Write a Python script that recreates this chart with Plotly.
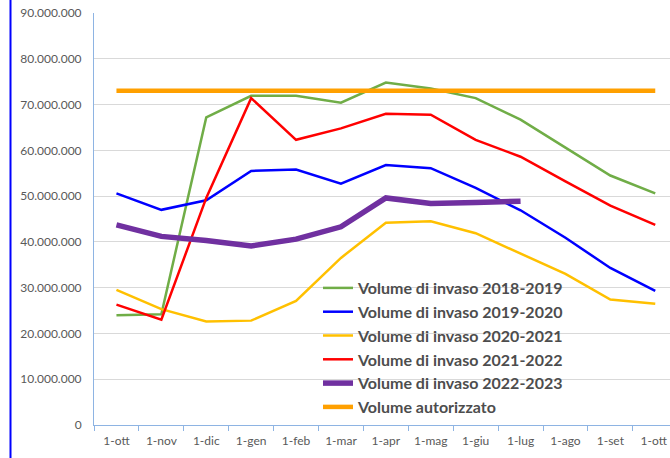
import plotly.graph_objects as go

categories = ["1-ott", "1-nov", "1-dic", "1-gen", "1-feb", "1-mar", "1-apr",
              "1-mag", "1-giu", "1-lug", "1-ago", "1-set", "1-ott "]

v_2018_2019 = [24.0e6, 24.2e6, 67.2e6, 71.9e6, 71.9e6, 70.4e6, 74.8e6,
               73.5e6, 71.4e6, 66.7e6, 60.6e6, 54.5e6, 50.6e6]
v_2019_2020 = [50.6e6, 47.0e6, 49.1e6, 55.5e6, 55.8e6, 52.7e6, 56.8e6,
               56.1e6, 51.8e6, 46.9e6, 40.9e6, 34.3e6, 29.3e6]
v_2020_2021 = [29.5e6, 25.3e6, 22.6e6, 22.8e6, 27.1e6, 36.5e6, 44.2e6,
               44.5e6, 41.9e6, 37.5e6, 33.0e6, 27.4e6, 26.5e6]
v_2021_2022 = [26.3e6, 23.0e6, 49.6e6, 71.4e6, 62.3e6, 64.8e6, 68.0e6,
               67.8e6, 62.3e6, 58.6e6, 53.2e6, 47.9e6, 43.7e6]
v_2022_2023 = [43.7e6, 41.2e6, 40.3e6, 39.1e6, 40.6e6, 43.3e6, 49.6e6,
               48.4e6, 48.6e6, 48.9e6]
v_autorizzato = [73.0e6] * 13

ytick_vals = [0, 10e6, 20e6, 30e6, 40e6, 50e6, 60e6, 70e6, 80e6, 90e6]
ytick_text = ["0", "10.000.000", "20.000.000", "30.000.000", "40.000.000",
              "50.000.000", "60.000.000", "70.000.000", "80.000.000", "90.000.000"]

series = [
    ("Volume di invaso 2018-2019", v_2018_2019, "#70AD47", 2.5),
    ("Volume di invaso 2019-2020", v_2019_2020, "#0000FF", 2.5),
    ("Volume di invaso 2020-2021", v_2020_2021, "#FFC000", 2.5),
    ("Volume di invaso 2021-2022", v_2021_2022, "#FF0000", 2.5),
    ("Volume di invaso 2022-2023", v_2022_2023, "#7030A0", 5.5),
    ("Volume autorizzato", v_autorizzato, "#FFA000", 4.5),
]

fig = go.Figure()
for name, vals, color, w in series:
    fig.add_trace(go.Scatter(
        x=categories[:len(vals)], y=vals, mode="lines", name=name,
        line=dict(color=color, width=w), cliponaxis=False))

W, H = 670, 458
L, R, T, B = 94, 0, 13, 33
pw = W - L - R
ph = H - T - B
step = 44.9
xmax = (pw / step) - 0.5

fig.update_layout(
    width=W, height=H,
    margin=dict(l=L, r=R, t=T, b=B, pad=0),
    paper_bgcolor="white", plot_bgcolor="white",
    font=dict(family="Lato", size=12, color="#595959"),
    showlegend=True,
    legend=dict(
        x=(318 - L) / pw, y=1 - (271 - T) / ph, xanchor="left", yanchor="top",
        bgcolor="rgba(0,0,0,0)", tracegroupgap=0,
        font=dict(family="Lato", size=16, color="#4D4D4D", weight="bold"),
        itemwidth=30,
    ),
    xaxis=dict(
        type="category", categoryorder="array", categoryarray=categories,
        range=[-0.5, xmax], showgrid=False, tickson="boundaries",
        ticks="outside", ticklen=5, tickcolor="#8EB4E3",
        showline=True, linecolor="#8EB4E3", linewidth=1,
        ticklabelstandoff=5,
        tickfont=dict(family="Lato", size=12, color="#595959"),
    ),
    yaxis=dict(
        range=[0, 90e6], tickvals=ytick_vals, ticktext=ytick_text,
        showgrid=True, gridcolor="#D9D9D9", gridwidth=1,
        showline=True, linecolor="#8EB4E3", linewidth=1,
        ticks="", ticklabelstandoff=9, zeroline=False,
        tickfont=dict(family="Lato", size=12, color="#595959"),
    ),
    shapes=[dict(type="line", xref="paper", yref="paper",
                 x0=(10.5 - L) / pw, x1=(10.5 - L) / pw, y0=-0.2, y1=1.2,
                 line=dict(color="#0000FF", width=2))],
)

fig.write_html("out.html",
               config={"displayModeBar": False},
               post_script="document.body.style.margin='0px';document.body.style.overflow='hidden';")
